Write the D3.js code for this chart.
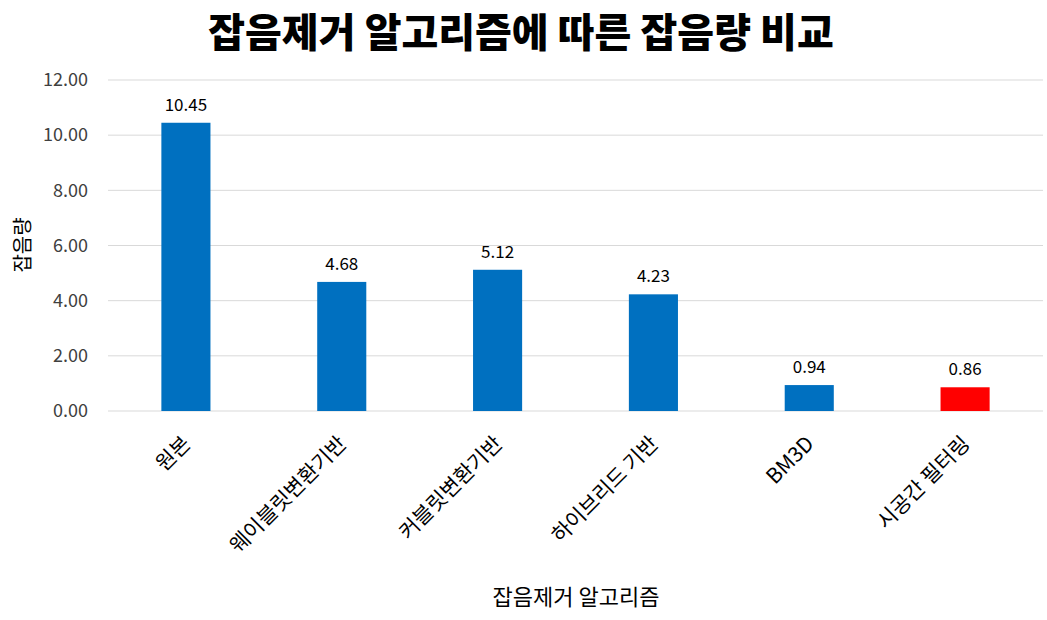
<!DOCTYPE html>
<html><head><meta charset="utf-8">
<script src="https://cdn.jsdelivr.net/npm/d3@7"></script>
<style>body{margin:0;background:#fff;} text{font-family:"Noto Sans CJK KR","Noto Sans",sans-serif;}</style>
</head><body><svg id="c" width="1047" height="620"></svg>
<script>
const categories = ["원본","웨이블릿변환기반","커블릿변환기반","하이브리드 기반","BM3D","시공간 필터링"];
const values = [10.45, 4.68, 5.12, 4.23, 0.94, 0.86];
const barColors = ["#0070C0","#0070C0","#0070C0","#0070C0","#0070C0","#FF0000"];
const yTicks = [0,2,4,6,8,10,12];

(function(){
const svg = d3.select("#c");
const mLeft = 108, mRight = 1043, mTop = 80, mBottom = 411;
const x = d3.scaleBand().domain(categories).range([mLeft, mRight]).paddingInner(0.685).paddingOuter(0.3425);
const y = d3.scaleLinear().domain([0,12]).range([mBottom, mTop]);

svg.append("text").attr("x", 521).attr("y", 47).attr("text-anchor","middle")
  .attr("font-size", 40).attr("font-weight", 900).attr("fill","#000")
  .text("잡음제거 알고리즘에 따른 잡음량 비교");

const grid = svg.append("g");
grid.selectAll("line").data(yTicks).join("line")
  .attr("x1", mLeft).attr("x2", mRight)
  .attr("y1", d => y(d)).attr("y2", d => y(d))
  .attr("stroke", "#d9d9d9").attr("stroke-width", 1);

const yAxis = svg.append("g").attr("transform", `translate(${mLeft},0)`)
  .call(d3.axisLeft(y).tickValues(yTicks).tickFormat(d3.format(".2f")).tickSize(0).tickPadding(20));
yAxis.select(".domain").remove();
yAxis.selectAll("text").attr("font-size", 18).attr("fill", "#404040");

svg.append("g").selectAll("rect").data(values).join("rect")
  .attr("x", (d,i) => x(categories[i])).attr("width", x.bandwidth())
  .attr("y", d => y(d)).attr("height", d => y(0) - y(d))
  .attr("fill", (d,i) => barColors[i]);

svg.append("g").selectAll("text").data(values).join("text")
  .attr("x", (d,i) => x(categories[i]) + x.bandwidth()/2)
  .attr("y", d => y(d) - 12).attr("text-anchor","middle")
  .attr("font-size", 17).attr("fill","#000")
  .text(d => d.toFixed(2));

const xAxis = svg.append("g").attr("transform", `translate(0,${mBottom})`)
  .call(d3.axisBottom(x).tickSize(0).tickPadding(0));
xAxis.select(".domain").remove();
xAxis.selectAll("text")
  .attr("font-size", 21).attr("fill","#000")
  .attr("text-anchor","end")
  .attr("x", 0).attr("y", 0).attr("dy", 0).attr("dx", 0)
  .attr("transform", "translate(6,34) rotate(-45)");

svg.append("text").attr("x", 576).attr("y", 605).attr("text-anchor","middle")
  .attr("font-size", 22).attr("fill","#000").text("잡음제거 알고리즘");

svg.append("text").attr("transform","translate(30,245) rotate(-90)").attr("text-anchor","middle")
  .attr("font-size", 20).attr("fill","#000").text("잡음량");
})();
</script></body></html>
